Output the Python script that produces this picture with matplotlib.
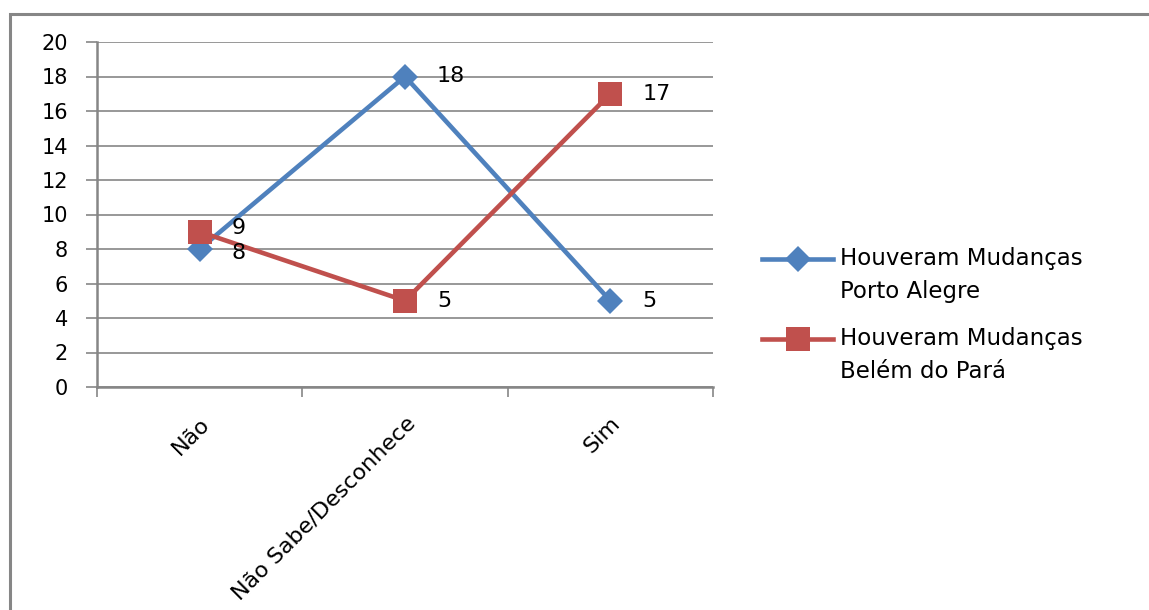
"""
plot.py

Line chart: Houveram Mudanças - Porto Alegre vs Belém do Pará.
"""

#####################################
# Import Modules
#####################################
import matplotlib
matplotlib.use("Agg")
import matplotlib.pyplot as plt
from matplotlib.lines import Line2D
from matplotlib.patches import Rectangle

#####################################
# Data
#####################################

categories = ["Não", "Não Sabe/Desconhece", "Sim"]
porto_alegre = [8, 18, 5]
belem_para = [9, 5, 17]
series_labels = ["Houveram Mudanças\nPorto Alegre", "Houveram Mudanças\nBelém do Pará"]
y_ticks = list(range(0, 21, 2))

#####################################
# Styles
#####################################

BLUE = "#4F81BD"
RED = "#C0504D"
GRID = "#868686"
W, H = 1149, 610

plt.rcParams["font.family"] = ["DejaVu Sans"]

fig = plt.figure(figsize=(W / 100, H / 100), dpi=100)
fig.patch.set_facecolor("white")

# Plot area in pixel positions of the reference
left, right, top, bottom = 97, 713, 42, 387
ax = fig.add_axes([left / W, 1 - bottom / H, (right - left) / W, (bottom - top) / H])

#####################################
# Draw the lines
#####################################

x = list(range(len(categories)))
ax.plot(x, porto_alegre, color=BLUE, linewidth=3.3, marker="D", markersize=13.5,
        markeredgewidth=0, zorder=3)
ax.plot(x, belem_para, color=RED, linewidth=3.3, marker="s", markersize=17,
        markeredgewidth=0, zorder=4)

# Data labels right of each point (the 9 and the 8 sit very close, nudge them apart)
def nudge(a, b):
    if abs(a - b) <= 1:
        return 3 if a > b else -3
    return 0

for xi, v, other in zip(x, porto_alegre, belem_para):
    ax.annotate(str(v), (xi, v), xytext=(23, nudge(v, other)), textcoords="offset points",
                ha="left", va="center", fontsize=16, zorder=5)
for xi, v, other in zip(x, belem_para, porto_alegre):
    ax.annotate(str(v), (xi, v), xytext=(23, nudge(v, other)), textcoords="offset points",
                ha="left", va="center", fontsize=16, zorder=5)

#####################################
# Axes
#####################################

ax.set_xlim(-0.5, len(categories) - 0.5)
ax.set_ylim(0, 20)
ax.set_yticks(y_ticks)
ax.tick_params(axis="y", direction="out", length=8, width=1.2, color=GRID,
               labelsize=15, pad=13)
ax.yaxis.grid(True, color=GRID, linewidth=1.2)
ax.set_axisbelow(True)

# Category boundaries as ticks, labels placed by hand
ax.set_xticks([i - 0.5 for i in range(len(categories) + 1)])
ax.set_xticklabels([])
ax.tick_params(axis="x", direction="out", length=7, width=1.2, color=GRID)
for xi, cat in zip(x, categories):
    ax.annotate(cat, (xi, 0), xycoords=ax.get_xaxis_transform(),
                xytext=(5, -24), textcoords="offset points", rotation=45,
                rotation_mode="anchor", ha="right", va="center", fontsize=16,
                annotation_clip=False)

for side in ["top", "right"]:
    ax.spines[side].set_visible(False)
for side in ["left", "bottom"]:
    ax.spines[side].set_color(GRID)
    ax.spines[side].set_linewidth(1.8)

#####################################
# Legend drawn by hand (handle on the first line, like Excel)
#####################################

legend_rows = [(259, BLUE, "D", 13.5, series_labels[0]), (339, RED, "s", 17, series_labels[1])]
for y_px, color, mk, ms, label in legend_rows:
    yf = 1 - y_px / H
    fig.add_artist(Line2D([762 / W, 833 / W], [yf, yf], color=color, linewidth=3.3))
    fig.add_artist(Line2D([797.5 / W], [yf], color=color, marker=mk, markersize=ms,
                          markeredgewidth=0))
    fig.text(840 / W, 1 - (y_px - 12) / H, label, ha="left", va="top",
             fontsize=16.5, linespacing=1.57)

# Chart border (cut off at right and bottom in the reference)
fig.add_artist(Rectangle((9.5 / W, -0.2), 1.5, 0.2 + 1 - 13.5 / H, transform=fig.transFigure,
                         fill=False, edgecolor=GRID, linewidth=2.2))

fig.savefig("out.png", dpi=100)
